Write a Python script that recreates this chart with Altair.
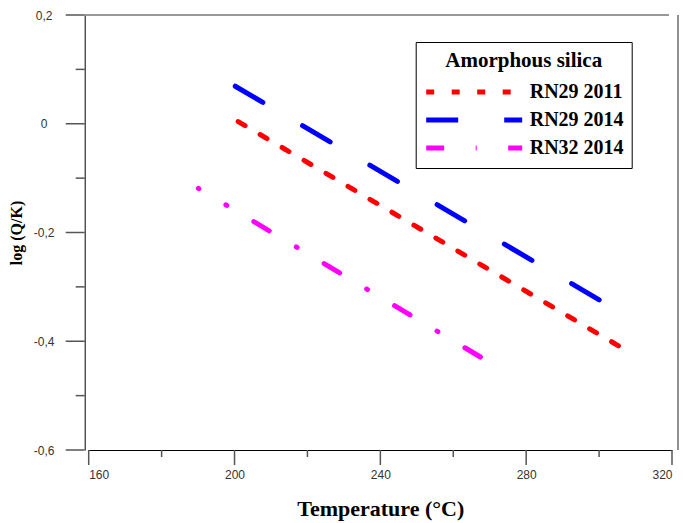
import altair as alt
import pandas as pd

# ---- data ----
series_names = ["RN29 2011", "RN29 2014", "RN32 2014"]
series_colors = ["#ff0000", "#0000ff", "#ff00ff"]
series_dashes = [[8, 17.5], [32, 46], [18, 31.5, 1, 31.5]]

temp_rn29_2011 = [201.0, 307.5]
logqk_rn29_2011 = [0.004, -0.417]
temp_rn29_2014 = [200.2, 300.1]
logqk_rn29_2014 = [0.069, -0.324]
temp_rn32_2014 = [190.1, 268.2]
logqk_rn32_2014 = [-0.119, -0.432]

x_major = [160, 200, 240, 280, 320]
x_minor = [180, 220, 260, 300]
y_major = [-0.6, -0.4, -0.2, 0, 0.2]
y_minor = [-0.5, -0.3, -0.1, 0.1]

rows = []
for name, ts, vs in [
    (series_names[0], temp_rn29_2011, logqk_rn29_2011),
    (series_names[1], temp_rn29_2014, logqk_rn29_2014),
    (series_names[2], temp_rn32_2014, logqk_rn32_2014),
]:
    for t, v in zip(ts, vs):
        rows.append({"series": name, "temp": t, "logqk": v})
df = pd.DataFrame(rows)
df_xmajor = pd.DataFrame({"temp": x_major})
df_ymajor = pd.DataFrame({"logqk": y_major})
df_xminor = pd.DataFrame({"temp": x_minor})
df_yminor = pd.DataFrame({"logqk": y_minor})
df_one = pd.DataFrame({"k": [0]})

W, H = 583.3, 435

x_scale = alt.Scale(domain=[160, 320], nice=False, zero=False)
y_scale = alt.Scale(domain=[-0.6, 0.2], nice=False, zero=False)

legend = alt.Legend(
    title="Amorphous silica",
    orient="none",
    legendX=327,
    legendY=27,
    titleFont="Liberation Serif",
    titleFontSize=21,
    titleFontWeight="bold",
    titleColor="black",
    titleAnchor="middle",
    titlePadding=9,
    labelFont="Liberation Serif",
    labelFontSize=20,
    labelFontWeight="bold",
    labelColor="black",
    labelOffset=5,
    labelLimit=0,
    symbolType="stroke",
    symbolSize=9216,
    symbolStrokeWidth=5,
    symbolDashOffset=0,
    clipHeight=24,
    rowPadding=4,
    padding=8,
    strokeColor="black",
    fillColor="white",
)

color_enc = alt.Color(
    "series:N",
    scale=alt.Scale(domain=series_names, range=series_colors),
    legend=legend,
)
dash_enc = alt.StrokeDash(
    "series:N",
    scale=alt.Scale(domain=series_names, range=series_dashes),
    legend=legend,
)

label_font = "Liberation Sans"

x_main = alt.X(
    "temp:Q",
    scale=x_scale,
    axis=alt.Axis(
        values=x_major,
        format="d",
        ticks=False,
        domainColor="#000000",
        labelFont=label_font,
        labelFontSize=12,
        labelColor="#333333",
        labelPadding=19,
        grid=False,
        title="Temperature (°C)",
        titleFont="Liberation Serif",
        titleFontSize=22,
        titleFontWeight="bold",
        titleColor="black",
        titleBaseline="alphabetic",
        titleX=291.6,
        titleY=65,
    ),
)
y_main = alt.Y(
    "logqk:Q",
    scale=y_scale,
    axis=alt.Axis(
        values=y_major,
        labelExpr="replace('' + datum.value, '.', ',')",
        offset=4,
        ticks=False,
        domainColor="#000000",
        labelFont=label_font,
        labelFontSize=12,
        labelColor="#333333",
        labelAlign="center",
        labelBaseline="middle",
        labelPadding=41,
        grid=False,
        title="log (Q/K)",
        titleFont="Liberation Serif",
        titleFontSize=16,
        titleFontWeight="bold",
        titleColor="black",
        titleBaseline="alphabetic",
        titleX=-63,
        titleY=217.5,
    ),
)

base = alt.Chart(df)

lines_a = (
    base.transform_filter(alt.FieldOneOfPredicate(field="series", oneOf=series_names[:2]))
    .mark_line(strokeWidth=5, strokeCap="round")
    .encode(x=x_main, y=y_main, color=color_enc, strokeDash=dash_enc)
)
lines_b = (
    base.transform_filter(alt.FieldEqualPredicate(field="series", equal=series_names[2]))
    .mark_line(strokeWidth=5, strokeCap="round", strokeDashOffset=17.5)
    .encode(x=alt.X("temp:Q", scale=x_scale),
            y=alt.Y("logqk:Q", scale=y_scale),
            color=color_enc, strokeDash=dash_enc)
)

tick_color = "#555555"
tick_w = 1.5

# axis ticks (positions through the shared scales)
major_x = alt.Chart(df_xmajor).mark_rule(color=tick_color, strokeWidth=tick_w).encode(
    x=alt.X("temp:Q", scale=x_scale), y=alt.value(H), y2=alt.value(H + 15)
)
major_y = alt.Chart(df_ymajor).mark_rule(color=tick_color, strokeWidth=tick_w).encode(
    y=alt.Y("logqk:Q", scale=y_scale), x=alt.value(-4), x2=alt.value(-23)
)
minor_x = alt.Chart(df_xminor).mark_rule(color=tick_color, strokeWidth=tick_w).encode(
    x=alt.X("temp:Q", scale=x_scale), y=alt.value(H), y2=alt.value(H + 7)
)
minor_y = alt.Chart(df_yminor).mark_rule(color=tick_color, strokeWidth=tick_w).encode(
    y=alt.Y("logqk:Q", scale=y_scale), x=alt.value(-4), x2=alt.value(-13)
)

# frame lines at top and right
frame_top = alt.Chart(df_one).mark_rule(color="#777777", strokeWidth=1.5).encode(
    x=alt.value(-4), x2=alt.value(W - 3), y=alt.value(0)
)
frame_right = alt.Chart(df_one).mark_rule(color="#222222", strokeWidth=1).encode(
    x=alt.value(W + 6), y=alt.value(0), y2=alt.value(H)
)

chart = (
    alt.layer(lines_a, lines_b, major_x, major_y, minor_x, minor_y, frame_top, frame_right)
    .properties(
        width=W,
        height=H,
        padding={"left": 88.7, "top": 15, "right": 11, "bottom": 73},
        autosize="none",
        background="white",
    )
    .configure_view(strokeWidth=0)
)

chart.save("out.html", embed_options={"renderer": "svg", "actions": False})
